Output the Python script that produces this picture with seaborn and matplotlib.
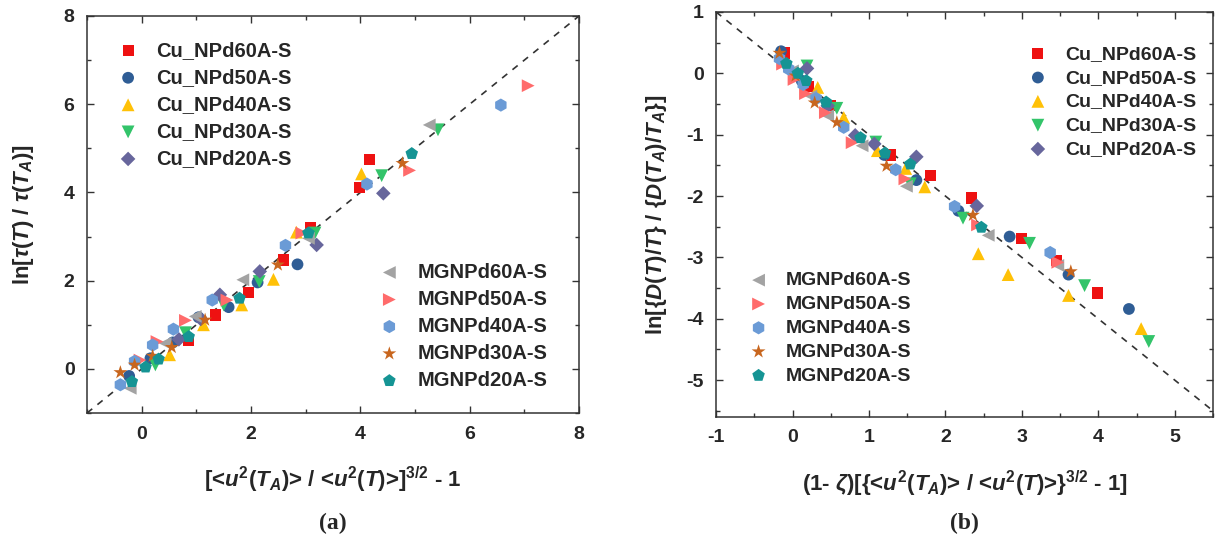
import matplotlib
matplotlib.use("Agg")
import matplotlib.pyplot as plt
from matplotlib.ticker import MultipleLocator
import seaborn as sns
import pandas as pd

# ---- data: panel (a) ----
a_cu60_x = [4.16, 3.98, 3.09, 2.60, 1.96, 1.35, 0.86]
a_cu60_y = [4.75, 4.12, 3.21, 2.47, 1.74, 1.22, 0.64]
a_cu50_x = [2.85, 2.12, 1.59, 1.04, 0.57, 0.16, -0.23]
a_cu50_y = [2.37, 1.96, 1.40, 1.17, 0.60, 0.24, -0.16]
a_cu40_x = [4.02, 2.83, 2.41, 1.83, 1.13, 0.51]
a_cu40_y = [4.42, 3.10, 2.03, 1.45, 1.00, 0.32]
a_cu30_x = [5.42, 4.39, 3.17, 2.15, 1.50, 0.80, 0.25]
a_cu30_y = [5.42, 4.38, 3.08, 1.98, 1.45, 0.82, 0.09]
a_cu20_x = [4.42, 3.20, 2.16, 1.43, 1.08, 0.68]
a_cu20_y = [3.98, 2.81, 2.21, 1.68, 1.13, 0.67]
a_mg60_x = [5.26, 3.05, 1.85, 0.98, 0.43, -0.21]
a_mg60_y = [5.53, 2.96, 2.02, 1.19, 0.58, -0.44]
a_mg50_x = [7.07, 4.90, 2.93, 1.56, 0.80, 0.28, -0.03]
a_mg50_y = [6.42, 4.50, 3.08, 1.56, 1.10, 0.62, 0.20]
a_mg40_x = [6.57, 4.12, 2.63, 1.29, 0.58, 0.20, -0.13, -0.39]
a_mg40_y = [5.98, 4.19, 2.80, 1.56, 0.90, 0.54, 0.17, -0.36]
a_mg30_x = [4.77, 2.49, 1.16, 0.55, 0.20, -0.13, -0.39]
a_mg30_y = [4.66, 2.36, 1.11, 0.49, 0.29, 0.09, -0.08]
a_mg20_x = [4.94, 3.05, 1.79, 0.86, 0.31, 0.07, -0.18]
a_mg20_y = [4.88, 3.08, 1.60, 0.73, 0.22, 0.04, -0.29]

# ---- data: panel (b) ----
b_cu60_x = [-0.11, 0.21, 0.49, 1.28, 1.81, 2.34, 3.00, 3.45, 3.99]
b_cu60_y = [0.33, -0.22, -0.52, -1.33, -1.66, -2.03, -2.69, -3.05, -3.58]
b_cu50_x = [-0.15, 0.12, 1.20, 1.62, 2.17, 2.84, 3.61, 4.40]
b_cu50_y = [0.36, -0.12, -1.33, -1.74, -2.24, -2.66, -3.28, -3.84]
b_cu40_x = [0.33, 0.67, 1.11, 1.48, 1.73, 2.43, 2.82, 3.61, 4.56]
b_cu40_y = [-0.23, -0.72, -1.26, -1.55, -1.85, -2.94, -3.28, -3.62, -4.16]
b_cu30_x = [0.19, 0.58, 1.09, 1.54, 2.23, 3.10, 3.82, 4.66]
b_cu30_y = [0.12, -0.57, -1.12, -1.80, -2.36, -2.77, -3.46, -4.37]
b_cu20_x = [0.19, 0.46, 0.82, 1.07, 1.62, 2.41]
b_cu20_y = [0.08, -0.53, -1.01, -1.15, -1.36, -2.16]
b_mg60_x = [0.00, 0.24, 0.46, 0.91, 1.49, 2.56, 3.47]
b_mg60_y = [0.04, -0.37, -0.69, -1.18, -1.84, -2.64, -3.13]
b_mg50_x = [-0.13, 0.02, 0.17, 0.43, 0.78, 1.47, 2.42, 3.47]
b_mg50_y = [0.15, -0.10, -0.33, -0.64, -1.13, -1.72, -2.47, -3.08]
b_mg40_x = [-0.17, -0.05, 0.14, 0.31, 0.67, 1.35, 2.12, 3.37]
b_mg40_y = [0.24, 0.07, -0.18, -0.41, -0.88, -1.57, -2.17, -2.92]
b_mg30_x = [-0.17, 0.04, 0.29, 0.58, 1.23, 2.36, 3.64]
b_mg30_y = [0.33, -0.04, -0.48, -0.80, -1.51, -2.31, -3.23]
b_mg20_x = [-0.08, 0.07, 0.18, 0.44, 0.89, 1.21, 1.54, 2.47]
b_mg20_y = [0.16, 0.00, -0.12, -0.47, -1.05, -1.30, -1.48, -2.51]

cu_names = ["Cu_NPd60A-S", "Cu_NPd50A-S", "Cu_NPd40A-S", "Cu_NPd30A-S", "Cu_NPd20A-S"]
mg_names = ["MGNPd60A-S", "MGNPd50A-S", "MGNPd40A-S", "MGNPd30A-S", "MGNPd20A-S"]

colors = {
    "Cu_NPd60A-S": "#ee1111", "Cu_NPd50A-S": "#2f5d95", "Cu_NPd40A-S": "#ffc107",
    "Cu_NPd30A-S": "#33c46a", "Cu_NPd20A-S": "#67669c",
    "MGNPd60A-S": "#a3a3a3", "MGNPd50A-S": "#ff6b6b", "MGNPd40A-S": "#6b9bd6",
    "MGNPd30A-S": "#c8661e", "MGNPd20A-S": "#159494",
}
markers = {
    "Cu_NPd60A-S": "s", "Cu_NPd50A-S": "o", "Cu_NPd40A-S": "^",
    "Cu_NPd30A-S": "v", "Cu_NPd20A-S": "D",
    "MGNPd60A-S": "<", "MGNPd50A-S": ">", "MGNPd40A-S": "h",
    "MGNPd30A-S": "*", "MGNPd20A-S": "p",
}
sizes = {"s": 65, "o": 72, "^": 85, "v": 85, "D": 55, "<": 85, ">": 85, "h": 90, "*": 110, "p": 90}

panel_a = {
    "Cu_NPd60A-S": (a_cu60_x, a_cu60_y), "Cu_NPd50A-S": (a_cu50_x, a_cu50_y),
    "Cu_NPd40A-S": (a_cu40_x, a_cu40_y), "Cu_NPd30A-S": (a_cu30_x, a_cu30_y),
    "Cu_NPd20A-S": (a_cu20_x, a_cu20_y),
    "MGNPd60A-S": (a_mg60_x, a_mg60_y), "MGNPd50A-S": (a_mg50_x, a_mg50_y),
    "MGNPd40A-S": (a_mg40_x, a_mg40_y), "MGNPd30A-S": (a_mg30_x, a_mg30_y),
    "MGNPd20A-S": (a_mg20_x, a_mg20_y),
}
panel_b = {
    "Cu_NPd60A-S": (b_cu60_x, b_cu60_y), "Cu_NPd50A-S": (b_cu50_x, b_cu50_y),
    "Cu_NPd40A-S": (b_cu40_x, b_cu40_y), "Cu_NPd30A-S": (b_cu30_x, b_cu30_y),
    "Cu_NPd20A-S": (b_cu20_x, b_cu20_y),
    "MGNPd60A-S": (b_mg60_x, b_mg60_y), "MGNPd50A-S": (b_mg50_x, b_mg50_y),
    "MGNPd40A-S": (b_mg40_x, b_mg40_y), "MGNPd30A-S": (b_mg30_x, b_mg30_y),
    "MGNPd20A-S": (b_mg20_x, b_mg20_y),
}

sns.set_style("ticks")
plt.rcParams["font.family"] = ["Liberation Sans", "DejaVu Sans"]
plt.rcParams["font.weight"] = "bold"
plt.rcParams["axes.unicode_minus"] = False
plt.rcParams["mathtext.fontset"] = "custom"
plt.rcParams["mathtext.rm"] = "Liberation Sans:bold"
plt.rcParams["mathtext.it"] = "Liberation Sans:bold:italic"
plt.rcParams["mathtext.bf"] = "Liberation Sans:bold"

fig = plt.figure(figsize=(12.19, 5.44), dpi=100)
ax1 = fig.add_axes([0.0714, 0.2408, 0.4036, 0.7298])
ax2 = fig.add_axes([0.5874, 0.2335, 0.4077, 0.7445])


def draw(ax, data):
    for name in cu_names + mg_names:
        xs, ys = data[name]
        df = pd.DataFrame({"x": xs, "y": ys})
        m = markers[name]
        sns.scatterplot(data=df, x="x", y="y", ax=ax, color=colors[name], marker=m,
                        s=sizes[m], linewidth=0, edgecolor="none", label=name, legend=False)


def style(ax):
    for sp in ax.spines.values():
        sp.set_color("#333333")
        sp.set_linewidth(1.1)
    ax.tick_params(which="both", direction="in", top=True, right=True, labelsize=14,
                   color="#333333", width=1)
    ax.tick_params(which="major", length=5, pad=9)
    ax.tick_params(which="minor", length=3)
    for lab in ax.get_xticklabels() + ax.get_yticklabels():
        lab.set_fontweight("bold")


def legends(ax, loc1, anchor1, loc2, anchor2, fs, sp):
    h, l = ax.get_legend_handles_labels()
    hd = dict(zip(l, h))
    kw = dict(frameon=False, fontsize=fs, handlelength=1.0, handletextpad=0.9,
              labelspacing=sp, borderpad=0, borderaxespad=0, markerscale=1.0)
    lg1 = ax.legend([hd[n] for n in cu_names], cu_names, loc=loc1, bbox_to_anchor=anchor1, **kw)
    ax.add_artist(lg1)
    ax.legend([hd[n] for n in mg_names], mg_names, loc=loc2, bbox_to_anchor=anchor2, **kw)


# panel (a)
ax1.plot([-1, 8], [-1, 8], ls=(0, (4, 4)), color="#333333", lw=1.2, zorder=0)
draw(ax1, panel_a)
ax1.set_xlim(-1, 8)
ax1.set_ylim(-1, 8)
ax1.xaxis.set_major_locator(MultipleLocator(2))
ax1.xaxis.set_minor_locator(MultipleLocator(1))
ax1.yaxis.set_major_locator(MultipleLocator(2))
ax1.yaxis.set_minor_locator(MultipleLocator(1))
ax1.set_xticks([0, 2, 4, 6, 8])
ax1.set_yticks([0, 2, 4, 6, 8])
style(ax1)
ax1.set_xlabel(r"[<$u^{2}$($T_{A}$)> / <$u^{2}$($T$)>]$^{3/2}$ - 1", fontsize=16,
               fontweight="bold", labelpad=16)
ax1.set_ylabel(r"ln[$\tau$($T$) / $\tau$($T_{A}$)]", fontsize=16, fontweight="bold", labelpad=20)
legends(ax1, "upper left", (0.063, 0.937), "lower left", (0.594, 0.058), 14.5, 0.4)

# panel (b)
ax2.plot([-1, 5.5], [1, -5.5], ls=(0, (4, 4)), color="#333333", lw=1.2, zorder=0)
draw(ax2, panel_b)
ax2.set_xlim(-1, 5.5)
ax2.set_ylim(-5.6, 1)
ax2.xaxis.set_major_locator(MultipleLocator(1))
ax2.xaxis.set_minor_locator(MultipleLocator(0.5))
ax2.yaxis.set_major_locator(MultipleLocator(1))
ax2.yaxis.set_minor_locator(MultipleLocator(0.5))
style(ax2)
ax2.set_xlabel(r"(1- $\zeta$)[{<$u^{2}$($T_{A}$)> / <$u^{2}$($T$)>}$^{3/2}$ - 1]", fontsize=16,
               fontweight="bold", labelpad=16)
ax2.set_ylabel(r"ln[{$D$($T$)/$T$} / {$D$($T_{A}$)/$T_{A}$}]", fontsize=16,
               fontweight="bold", labelpad=12)
legends(ax2, "upper left", (0.628, 0.918), "lower left", (0.066, 0.08), 14, 0.32)

fig.text(333 / 1219, 1 - 523 / 544, "(a)", ha="center", va="center",
         family="Liberation Serif", fontweight="bold", fontsize=17)
fig.text(964 / 1219, 1 - 523 / 544, "(b)", ha="center", va="center",
         family="Liberation Serif", fontweight="bold", fontsize=17)

fig.savefig("out.png", dpi=100)
